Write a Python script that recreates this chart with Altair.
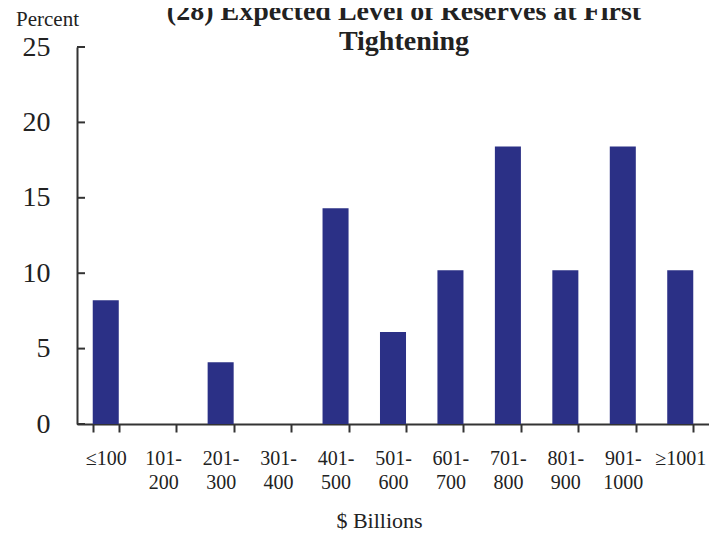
import altair as alt
import pandas as pd

categories = ["≤100", "101-200", "201-300", "301-400", "401-500", "501-600",
              "601-700", "701-800", "801-900", "901-1000", "≥1001"]
values = [8.2, 0.0, 4.1, 0.0, 14.3, 6.1, 10.2, 18.4, 10.2, 18.4, 10.2]
y_ticks = [0, 5, 10, 15, 20, 25]
title_lines = ["(28) Expected Level of Reserves at First", "Tightening"]

df = pd.DataFrame({"cat": categories, "pct": values})
tick_df = pd.DataFrame({"t": y_ticks})
title_df = pd.DataFrame({"k": [0]})

SERIF = "Liberation Serif"
AXIS_COLOR = "#333333"

label_expr = ("indexof(datum.label,'-')>0 ? "
              "[slice(datum.label,0,indexof(datum.label,'-')+1), "
              "slice(datum.label,indexof(datum.label,'-')+1)] : datum.label")

x_enc = alt.X(
    "cat:N", sort=categories,
    scale=alt.Scale(paddingInner=0.547, paddingOuter=0.274),
    axis=alt.Axis(
        title="$ Billions", titleFont=SERIF, titleFontSize=22, titleFontWeight="normal",
        titleColor="#222222", titleX=302, titleY=103, titleAlign="center",
        titleBaseline="alphabetic", titleAnchor="start",
        labelFont=SERIF, labelFontSize=20, labelColor="#222222", labelAngle=0,
        labelExpr=label_expr, labelLineHeight=24, labelBaseline="top", labelPadding=16,
        tickBand="extent", tickSize=8, tickColor=AXIS_COLOR, tickWidth=2,
        domainColor=AXIS_COLOR, domainWidth=2, grid=False,
    ),
)

y_scale = alt.Scale(domain=[0, 25], nice=False)

bars = alt.Chart(df).mark_bar(color="#2B3086").encode(
    x=x_enc,
    y=alt.Y(
        "pct:Q", scale=y_scale,
        axis=alt.Axis(
            values=y_ticks, ticks=False, grid=False,
            labelFont=SERIF, labelFontSize=28, labelColor="#222222", labelPadding=27,
            domainColor=AXIS_COLOR, domainWidth=2,
            title="Percent", titleFont=SERIF, titleFontSize=21, titleFontWeight="normal",
            titleColor="#222222", titleAngle=0, titleX=-30, titleY=-22,
            titleAlign="center", titleBaseline="alphabetic",
        ),
    ),
)

ticks = alt.Chart(tick_df).mark_rule(color=AXIS_COLOR, strokeWidth=2).encode(
    y=alt.Y("t:Q", scale=y_scale),
    x=alt.value(0),
    x2=alt.value(8),
)

title = alt.Chart(title_df).mark_text(
    text=title_lines, font=SERIF, fontSize=28, fontWeight="bold", color="#222222",
    lineHeight=30, align="center", baseline="alphabetic",
).encode(x=alt.value(327), y=alt.value(-27))

chart = alt.layer(bars, ticks, title).properties(
    width=632,
    height=377,
    autosize=alt.AutoSizeParams(type="none"),
    padding={"left": 69, "top": 39, "right": 0, "bottom": 110},
).configure_view(stroke=None)

chart.save("out.html", embed_options={"renderer": "svg", "actions": False})
